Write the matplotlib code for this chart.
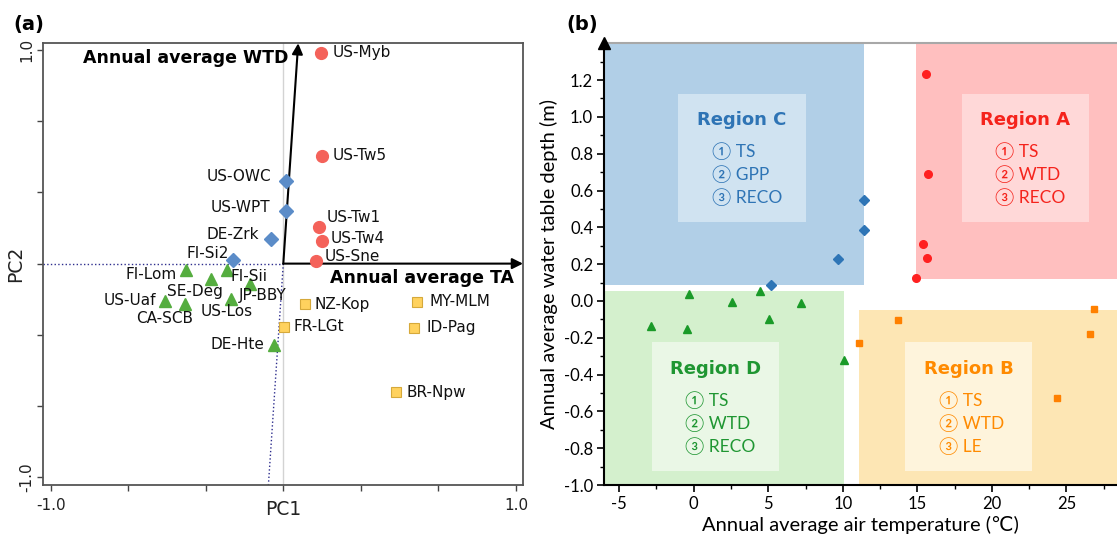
import matplotlib
matplotlib.use('Agg')
import matplotlib.pyplot as plt
from matplotlib.patches import Rectangle

plt.rcParams['axes.unicode_minus'] = False

# ---------------- Panel (a) data: PCA scores ----------------
circ_names = ['US-Myb', 'US-Tw5', 'US-Tw1', 'US-Tw4', 'US-Sne']
circ_pc1 = [0.162, 0.168, 0.153, 0.165, 0.141]
circ_pc2 = [0.987, 0.504, 0.170, 0.105, 0.013]

dia_names = ['US-OWC', 'US-WPT', 'DE-Zrk', 'FI-Si2']
dia_pc1 = [0.012, 0.012, -0.053, -0.215]
dia_pc2 = [0.388, 0.245, 0.114, 0.017]

tri_names = ['FI-Lom', 'FI-Sii', 'SE-Deg', 'JP-BBY', 'US-Uaf', 'CA-SCB', 'US-Los', 'DE-Hte']
tri_pc1 = [-0.418, -0.243, -0.311, -0.144, -0.510, -0.421, -0.223, -0.039]
tri_pc2 = [-0.030, -0.030, -0.073, -0.095, -0.173, -0.189, -0.167, -0.379]

sq_names = ['NZ-Kop', 'FR-LGt', 'MY-MLM', 'ID-Pag', 'BR-Npw']
sq_pc1 = [0.093, 0.003, 0.575, 0.563, 0.483]
sq_pc2 = [-0.190, -0.295, -0.178, -0.300, -0.602]

# loading vectors
wtd_vec = [0.064, 1.031]
ta_vec = [1.03, 0.0]
vec_labels = ['Annual average WTD', 'Annual average TA']

pca_ticks = [-1, -2/3, -1/3, 0, 1/3, 2/3, 1]
pca_ticklabels = ['-1.0', '', '', '', '', '', '1.0']

# ---------------- Panel (b) data ----------------
c_temp = [11.41, 11.41, 9.67, 5.18]
c_wtd = [0.546, 0.383, 0.230, 0.085]
a_temp = [15.59, 15.72, 15.36, 15.63, 14.94]
a_wtd = [1.234, 0.689, 0.310, 0.236, 0.127]
d_temp = [-2.85, -0.29, -0.42, 2.57, 4.42, 5.02, 7.17, 10.05]
d_wtd = [-0.1375, 0.038, -0.150, -0.003, 0.054, -0.099, -0.0125, -0.319]
b_temp = [11.08, 13.69, 26.88, 26.59, 24.4]
b_wtd = [-0.226, -0.105, -0.045, -0.181, -0.529]

region_names = ['Region A', 'Region B', 'Region C', 'Region D']
region_items = [['TS', 'WTD', 'RECO'], ['TS', 'WTD', 'LE'],
                ['TS', 'GPP', 'RECO'], ['TS', 'WTD', 'RECO']]
# outer region bounds (x0, x1, y0, y1)
region_bounds = [(14.9, 28.4, 0.122, 1.4), (11.1, 28.4, -1.0, -0.047),
                 (-6.0, 11.4, 0.085, 1.4), (-6.0, 10.05, -1.0, 0.053)]
# inner text box bounds
inner_bounds = [(17.98, 26.5, 0.429, 1.127), (14.18, 22.73, -0.924, -0.223),
                (-1.03, 7.5, 0.429, 1.127), (-2.83, 5.72, -0.924, -0.223)]

x_ticks_b = [-5, 0, 5, 10, 15, 20, 25]
y_ticks_b = [-1.0, -0.8, -0.6, -0.4, -0.2, 0.0, 0.2, 0.4, 0.6, 0.8, 1.0, 1.2]

# ---------------- styles ----------------
col_circ_a, col_dia_a, col_tri_a, col_sq_a = '#f4625a', '#5b8cc8', '#55ad3f', '#ffd25e'
reg_outer = ['#ffbfbf', '#fde6b4', '#b1cfe7', '#d4f0cd']
reg_inner = ['#ffd8d8', '#fef4dc', '#d0e3f1', '#eaf7e6']
reg_text = ['#f5231c', '#ff8a00', '#2e74b5', '#1f9632']

fig = plt.figure(figsize=(11.17, 5.37), dpi=100)

# =============== Panel (a) ===============
ax = fig.add_axes([0.0382, 0.0968, 0.4300, 0.8226])
ax.set_xlim(-1.034, 1.030)
ax.set_ylim(-1.036, 1.031)

ax.axvline(0, color='#d3d3d3', lw=1.0, zorder=1)
ax.plot([-1.034, 0], [0, 0], ls=':', color='#2e2e8e', lw=1.0, zorder=2)
ax.plot([0, -wtd_vec[0]], [0, -1.036], ls=':', color='#2e2e8e', lw=1.0, zorder=2)

for vec in (wtd_vec, ta_vec):
    ax.annotate('', xy=(vec[0], vec[1]), xytext=(0, 0), annotation_clip=False,
                arrowprops=dict(arrowstyle='-|>', lw=1.5, color='black',
                                mutation_scale=16, shrinkA=0, shrinkB=0), zorder=3)
ax.text(0.022, 0.962, vec_labels[0], fontsize=12.5, fontweight='bold', ha='right', va='center')
ax.text(0.99, -0.067, vec_labels[1], fontsize=12.5, fontweight='bold', ha='right', va='center')

ax.plot(circ_pc1, circ_pc2, 'o', ms=8.5, color=col_circ_a, mec=col_circ_a, ls='none', zorder=5)
ax.plot(dia_pc1, dia_pc2, 'D', ms=7, color=col_dia_a, mec=col_dia_a, ls='none', zorder=5)
ax.plot(tri_pc1, tri_pc2, '^', ms=8, color=col_tri_a, mec=col_tri_a, ls='none', zorder=5)
ax.plot(sq_pc1, sq_pc2, 's', ms=7.5, color=col_sq_a, mec='#d6a93a', mew=0.8, ls='none', zorder=5)

# label offsets (pixels) and alignment
lab_off = {
    'US-Myb': (12, 0, 'left'), 'US-Tw5': (10, 0, 'left'), 'US-Tw1': (8, 10, 'left'),
    'US-Tw4': (9, 3, 'left'), 'US-Sne': (9, 4, 'left'),
    'US-OWC': (-15, 4, 'right'), 'US-WPT': (-16, 4, 'right'), 'DE-Zrk': (-12, 5, 'right'),
    'FI-Si2': (-4, 6, 'right'),
    'FI-Lom': (-9, -4, 'right'), 'FI-Sii': (4, -6, 'left'), 'SE-Deg': (-16, -12, 'center'),
    'JP-BBY': (13, -12, 'center'), 'US-Uaf': (-8, 0, 'right'), 'CA-SCB': (-21, -14, 'center'),
    'US-Los': (-5, -12, 'center'), 'DE-Hte': (-10, 0, 'right'),
    'NZ-Kop': (10, 0, 'left'), 'FR-LGt': (10, 0, 'left'), 'MY-MLM': (12, 0, 'left'),
    'ID-Pag': (12, 0, 'left'), 'BR-Npw': (11, 0, 'left'),
}
for names, xs, ys in ((circ_names, circ_pc1, circ_pc2), (dia_names, dia_pc1, dia_pc2),
                      (tri_names, tri_pc1, tri_pc2), (sq_names, sq_pc1, sq_pc2)):
    for n, x, y in zip(names, xs, ys):
        dx, dy, ha = lab_off[n]
        ax.annotate(n, (x, y), xytext=(dx, dy), textcoords='offset pixels',
                    ha=ha, va='center', fontsize=11, color='#111111', zorder=6)

ax.set_xticks(pca_ticks)
ax.set_xticklabels(pca_ticklabels)
ax.set_yticks(pca_ticks)
ax.set_yticklabels(pca_ticklabels, rotation=90, va='center')
ax.tick_params(direction='out', length=4, width=1, color='#444444', labelsize=11,
               labelcolor='#222222')
ax.tick_params(axis='x', pad=5)
ax.tick_params(axis='y', pad=2)
for s in ax.spines.values():
    s.set_color('#555555')
    s.set_linewidth(1.3)
ax.set_xlabel('PC1', fontsize=13.5, color='#222222')
ax.set_ylabel('PC2', fontsize=13.5, color='#222222')
ax.xaxis.set_label_coords(0.5, -0.033)
ax.yaxis.set_label_coords(-0.036, 0.5)
fig.text(0.012, 0.955, '(a)', fontsize=14, fontweight='bold', va='center', ha='left')

# =============== Panel (b) ===============
bx = fig.add_axes([0.5410, 0.0968, 0.4590, 0.8226])
bx.set_xlim(-6, 28.4)
bx.set_ylim(-1.0, 1.4)

item_fam = ['Lato', 'Noto Sans CJK SC', 'DejaVu Sans']
circ_nums = ['\u2460', '\u2461', '\u2462']
for name, items, ob, ib, tc, oc, icol in zip(region_names, region_items, region_bounds,
                                            inner_bounds, reg_text, reg_outer, reg_inner):
    x0, x1, y0, y1 = ob
    bx.add_patch(Rectangle((x0, y0), x1 - x0, y1 - y0, color=oc, lw=0, zorder=0))
    ix0, ix1, iy0, iy1 = ib
    bx.add_patch(Rectangle((ix0, iy0), ix1 - ix0, iy1 - iy0, color=icol, lw=0, zorder=1))
    bx.text((ix0 + ix1) / 2, iy1 - 0.145, name, ha='center', va='center', fontsize=13,
            fontweight='bold', color=tc, family='DejaVu Sans', zorder=3)
    for k, (num, it) in enumerate(zip(circ_nums, items)):
        bx.text(ix0 + 2.25, iy1 - 0.315 - 0.125 * k, num + ' ' + it, ha='left', va='center',
                fontsize=12.5, color=tc, family=item_fam, zorder=3)

bx.plot(c_temp, c_wtd, 'D', ms=5.5, color='#2e75b6', ls='none', zorder=5, clip_on=False)
bx.plot(a_temp, a_wtd, 'o', ms=5.5, color='#ff2020', ls='none', zorder=5, clip_on=False)
bx.plot(d_temp, d_wtd, '^', ms=6, color='#1a9a28', ls='none', zorder=5, clip_on=False)
bx.plot(b_temp, b_wtd, 's', ms=5, color='#ff8000', ls='none', zorder=5, clip_on=False)

bx.set_xticks(x_ticks_b)
bx.set_xticks([-2.5, 2.5, 7.5, 12.5, 17.5, 22.5, 27.5], minor=True)
bx.set_yticks(y_ticks_b)
bx.set_yticklabels(['%.1f' % v for v in y_ticks_b])
bx.set_yticks([-0.9, -0.7, -0.5, -0.3, -0.1, 0.1, 0.3, 0.5, 0.7, 0.9, 1.1, 1.3], minor=True)
bx.tick_params(which='major', direction='out', length=5, width=1.2, labelsize=12, pad=3)
bx.tick_params(which='minor', direction='out', length=3, width=1)
for lab in bx.get_xticklabels() + bx.get_yticklabels():
    lab.set_family(['Lato', 'DejaVu Sans'])
bx.spines['right'].set_visible(False)
bx.spines['top'].set_color('#a8a8a8')
bx.spines['top'].set_linewidth(1.5)
bx.spines['left'].set_linewidth(1.5)
bx.spines['bottom'].set_linewidth(1.5)
bx.plot([0], [1], marker='^', ms=8, color='black', transform=bx.transAxes, clip_on=False, zorder=10)
bx.set_xlabel('Annual average air temperature (\u2103)', fontsize=14.5, labelpad=3,
              family=['Lato', 'DejaVu Sans'])
bx.set_ylabel('Annual average water table depth (m)', fontsize=14.5, labelpad=4,
              family=['Lato', 'DejaVu Sans'])
fig.text(0.507, 0.955, '(b)', fontsize=14, fontweight='bold', va='center', ha='left')

fig.savefig('out.png', dpi=100)
